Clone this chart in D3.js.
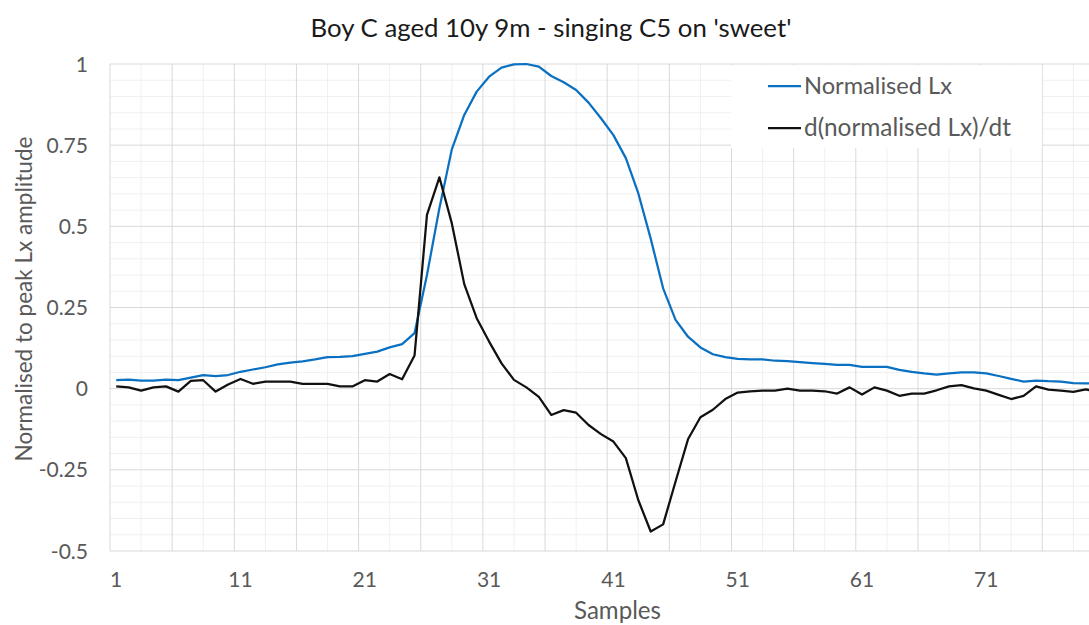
<!DOCTYPE html>
<html>
<head>
<meta charset="utf-8">
<script src="https://cdn.jsdelivr.net/npm/d3@7"></script>
<style>
  html, body { margin: 0; padding: 0; background: #fff; }
  svg { display: block; font-family: Lato, "Open Sans", sans-serif; }
</style>
</head>
<body>
<svg id="chart" width="1089" height="625"></svg>
<script>
// ---- data ----
const samples = d3.range(1, 81);
const normalisedLx = [
  0.026, 0.028, 0.025, 0.025, 0.028, 0.026, 0.034, 0.042, 0.039, 0.042,
  0.052, 0.059, 0.066, 0.075, 0.080, 0.084, 0.090, 0.097, 0.098, 0.100,
  0.107, 0.114, 0.127, 0.137, 0.171, 0.350, 0.556, 0.737, 0.843, 0.915,
  0.961, 0.989, 0.999, 1.000, 0.992, 0.963, 0.944, 0.920, 0.881, 0.833,
  0.781, 0.710, 0.602, 0.462, 0.309, 0.212, 0.160, 0.127, 0.106, 0.097,
  0.092, 0.090, 0.090, 0.086, 0.085, 0.082, 0.079, 0.076, 0.073, 0.073,
  0.067, 0.067, 0.067, 0.058, 0.052, 0.047, 0.043, 0.047, 0.050, 0.050,
  0.047, 0.039, 0.030, 0.022, 0.025, 0.023, 0.022, 0.017, 0.016, 0.016
];
const dNormalisedLx = [
  0.007, 0.004, -0.006, 0.004, 0.007, -0.009, 0.024, 0.026, -0.009, 0.013,
  0.030, 0.015, 0.022, 0.022, 0.022, 0.015, 0.015, 0.015, 0.007, 0.007,
  0.026, 0.022, 0.045, 0.029, 0.102, 0.535, 0.651, 0.509, 0.322, 0.217,
  0.145, 0.078, 0.027, 0.004, -0.025, -0.081, -0.066, -0.074, -0.112, -0.140,
  -0.163, -0.214, -0.343, -0.440, -0.418, -0.286, -0.156, -0.088, -0.065, -0.032,
  -0.012, -0.008, -0.006, -0.006, 0.000, -0.006, -0.006, -0.008, -0.015, 0.004,
  -0.018, 0.004, -0.006, -0.022, -0.015, -0.015, -0.005, 0.007, 0.011, 0.001,
  -0.006, -0.019, -0.032, -0.022, 0.007, -0.003, -0.006, -0.010, -0.002, -0.010
];
const xTickLabels = [1, 11, 21, 31, 41, 51, 61, 71];
const yTickValues = [1, 0.75, 0.5, 0.25, 0, -0.25, -0.5];
const seriesNames = ["Normalised Lx", "d(normalised Lx)/dt"];
const seriesColors = ["#0A70C2", "#111111"];
const titleText = "Boy C aged 10y 9m - singing C5 on 'sweet'";
const xTitle = "Samples";
const yTitle = "Normalised to peak Lx amplitude";

// ---- layout ----
const svg = d3.select("#chart");
const plot = { left: 110, right: 1104.4, top: 64, bottom: 551 };
const x = d3.scaleLinear().domain([0.5, samples.length + 0.5]).range([plot.left, plot.right]);
const y = d3.scaleLinear().domain([-0.5, 1]).range([plot.bottom, plot.top]);

function fit(sel, target, base) {
  sel.style("font-size", base + "px");
  const w = sel.node().getComputedTextLength();
  const s = base * target / w;
  sel.style("font-size", s.toFixed(2) + "px");
  return s;
}

// ---- gridlines ----
const grid = svg.append("g");
const vVals = d3.range(0, 33).map(k => 0.5 + 2.5 * k);
const hVals = d3.range(0, 31).map(k => +(-0.5 + 0.05 * k).toFixed(2));
grid.append("g").selectAll("line").data(hVals.filter((d, i) => i % 5 !== 0)).join("line")
  .attr("x1", plot.left).attr("x2", plot.right)
  .attr("y1", d => y(d)).attr("y2", d => y(d))
  .attr("stroke", "#f0f0f0").attr("stroke-width", 1);
grid.append("g").selectAll("line").data(vVals.filter((d, i) => i % 2 !== 0)).join("line")
  .attr("y1", plot.top).attr("y2", plot.bottom)
  .attr("x1", d => x(d)).attr("x2", d => x(d))
  .attr("stroke", "#f0f0f0").attr("stroke-width", 1);
grid.append("g").selectAll("line").data(hVals.filter((d, i) => i % 5 === 0)).join("line")
  .attr("x1", plot.left).attr("x2", plot.right)
  .attr("y1", d => y(d)).attr("y2", d => y(d))
  .attr("stroke", "#d9d9d9").attr("stroke-width", 1);
grid.append("g").selectAll("line").data(vVals.filter((d, i) => i % 2 === 0)).join("line")
  .attr("y1", plot.top).attr("y2", plot.bottom)
  .attr("x1", d => x(d)).attr("x2", d => x(d))
  .attr("stroke", "#d9d9d9").attr("stroke-width", 1);

// ---- lines ----
const line = d3.line().x((d, i) => x(samples[i])).y(d => y(d));
svg.append("path").datum(normalisedLx).attr("d", line)
  .attr("fill", "none").attr("stroke", seriesColors[0]).attr("stroke-width", 2.25)
  .attr("stroke-linejoin", "round");
svg.append("path").datum(dNormalisedLx).attr("d", line)
  .attr("fill", "none").attr("stroke", seriesColors[1]).attr("stroke-width", 2.25)
  .attr("stroke-linejoin", "round");

// ---- y tick labels ----
const yt = svg.append("g").attr("fill", "#595959");
const sample = yt.append("text").text("0.75");
const tickSize = fit(sample, 41.6, 20);
sample.remove();
yt.selectAll("text").data(yTickValues).join("text")
  .attr("x", 88).attr("y", d => y(d) + tickSize * 0.36)
  .attr("text-anchor", "end").style("font-size", tickSize + "px")
  .text(d => String(d));

// ---- x tick labels ----
svg.append("g").attr("fill", "#595959").selectAll("text").data(xTickLabels).join("text")
  .attr("x", d => x(d)).attr("y", 587)
  .attr("text-anchor", "middle").style("font-size", tickSize + "px")
  .text(d => d);

// ---- title ----
const t = svg.append("text").attr("x", 551).attr("y", 37).attr("text-anchor", "middle")
  .attr("fill", "#1a1a1a").text(titleText);
fit(t, 481, 24);

// ---- axis titles ----
const xt = svg.append("text").attr("x", 617.5).attr("y", 619).attr("text-anchor", "middle")
  .attr("fill", "#595959").text(xTitle);
fit(xt, 87, 24);
const ytl = svg.append("text").attr("transform", "translate(32,299) rotate(-90)")
  .attr("text-anchor", "middle").attr("fill", "#595959").text(yTitle);
fit(ytl, 325, 24);

// ---- legend ----
const lg = svg.append("g");
lg.append("rect").attr("x", 731).attr("y", 65).attr("width", 311).attr("height", 83).attr("fill", "#fff");
const rows = [94, 136];
seriesNames.forEach((name, i) => {
  lg.append("line").attr("x1", 768).attr("x2", 801)
    .attr("y1", rows[i] - 8).attr("y2", rows[i] - 8)
    .attr("stroke", seriesColors[i]).attr("stroke-width", 2.25);
  const tx = lg.append("text").attr("x", 804).attr("y", rows[i]).attr("fill", "#595959").text(name);
  fit(tx, i === 0 ? 148 : 207, 22);
});
</script>
</body>
</html>
